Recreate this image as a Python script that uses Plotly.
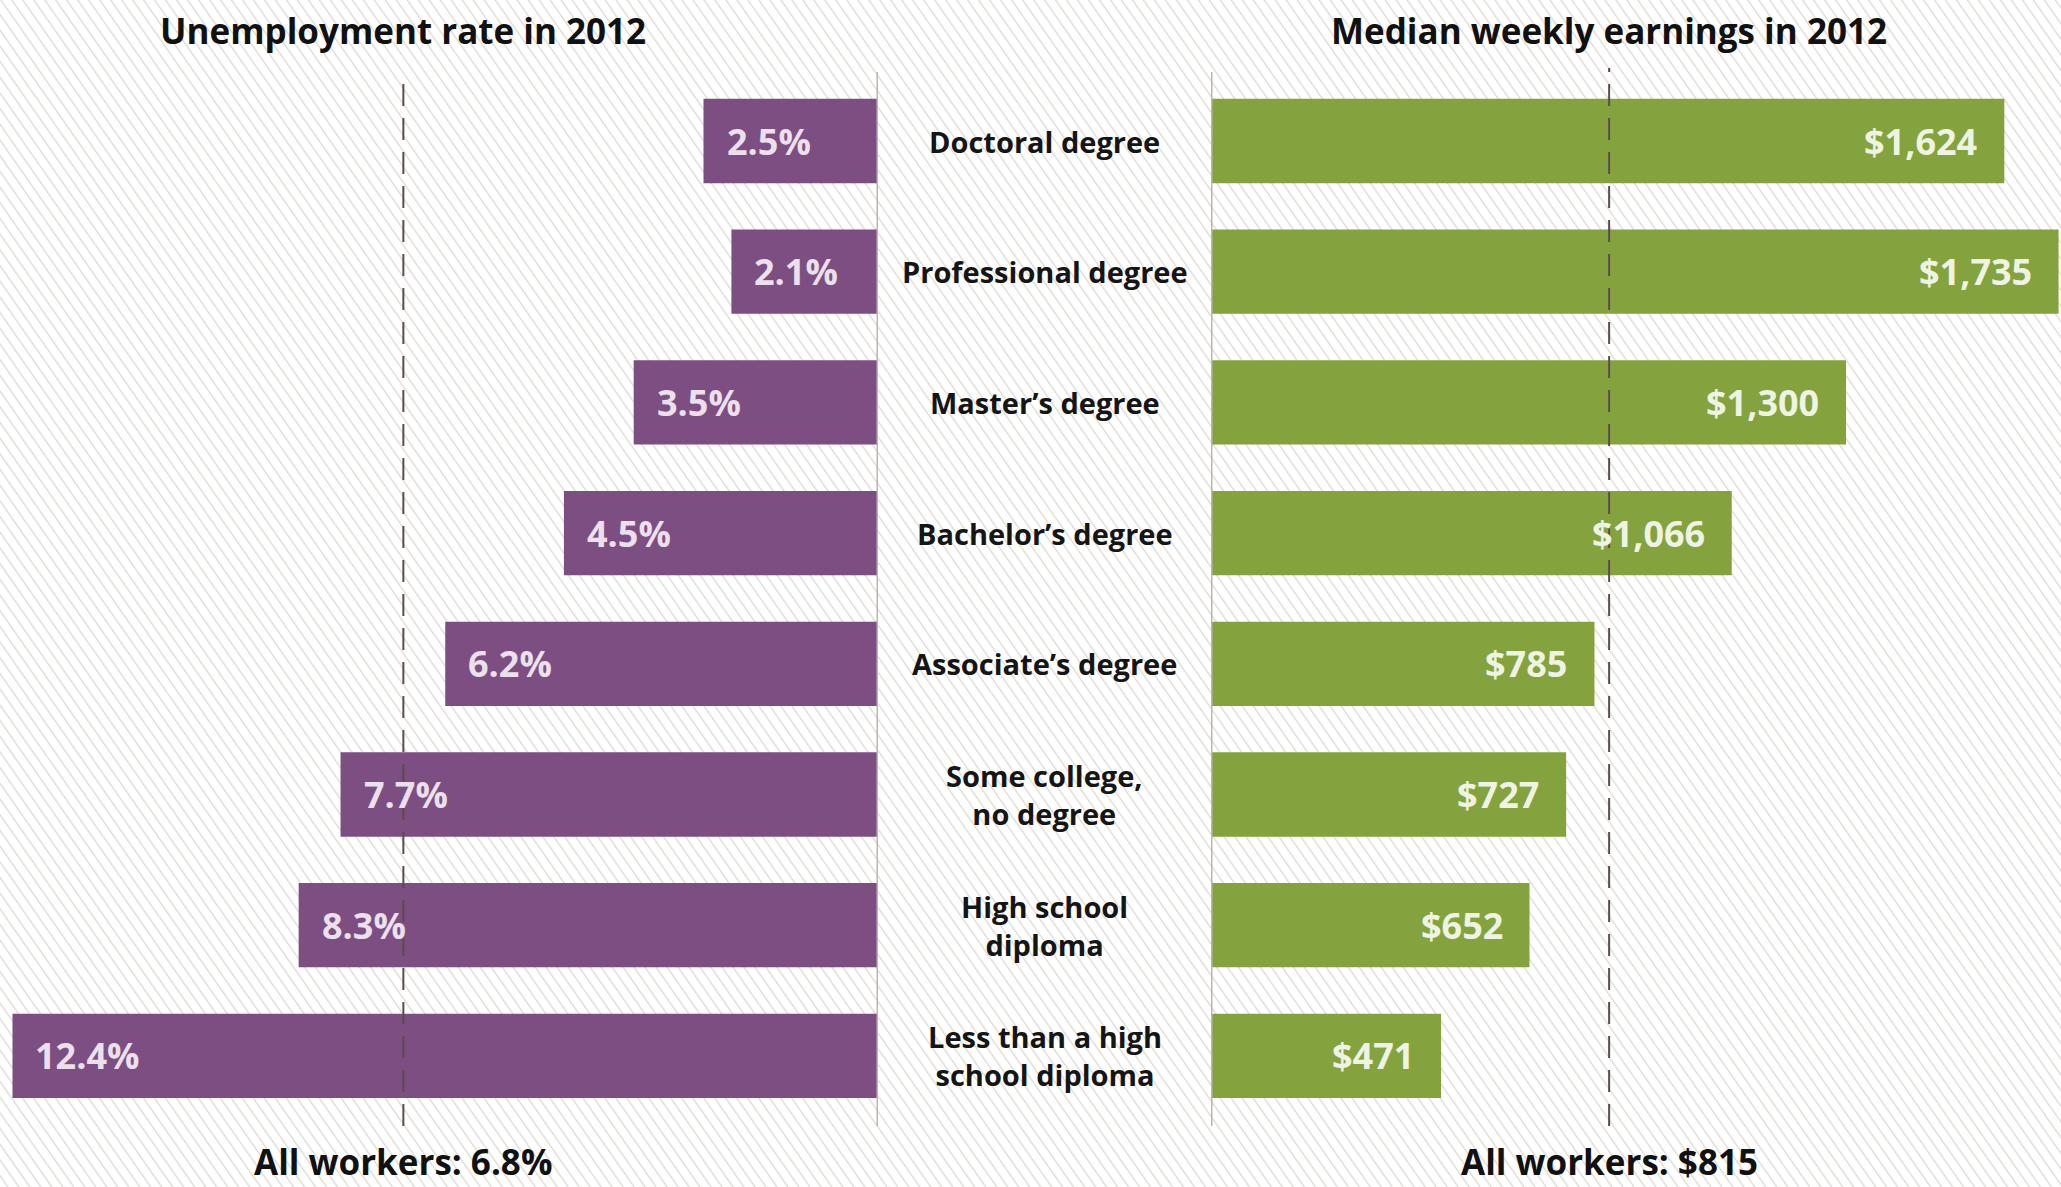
import base64
import plotly.graph_objects as go

# ---- data ----
categories = ["Doctoral degree", "Professional degree", "Master’s degree", "Bachelor’s degree",
              "Associate’s degree", "Some college,<br>no degree", "High school<br>diploma",
              "Less than a high<br>school diploma"]
unemployment = [2.5, 2.1, 3.5, 4.5, 6.2, 7.7, 8.3, 12.4]
earnings = [1624, 1735, 1300, 1066, 785, 727, 652, 471]
all_unemployment = 6.8
all_earnings = 815
left_title = "Unemployment rate in 2012"
right_title = "Median weekly earnings in 2012"

W, H = 2061, 1187
PURPLE = "#7d4e82"
GREEN = "#84a33e"
FONT = "Open Sans, sans-serif"

# hatched background as svg pattern
svg = (f'<svg xmlns="http://www.w3.org/2000/svg" width="{W}" height="{H}">'
       '<defs><pattern id="p" width="9" height="9" patternUnits="userSpaceOnUse" '
       'patternTransform="rotate(-35)">'
       '<line x1="0" y1="0" x2="0" y2="9" stroke="#dcd8d3" stroke-width="2.6"/>'
       '</pattern></defs>'
       f'<rect width="{W}" height="{H}" fill="#ffffff"/>'
       f'<rect width="{W}" height="{H}" fill="url(#p)"/></svg>')
bg = "data:image/svg+xml;base64," + base64.b64encode(svg.encode()).decode()

fig = go.Figure()
fig.add_trace(go.Bar(y=categories, x=unemployment, orientation="h", xaxis="x", yaxis="y",
                     marker=dict(color=PURPLE, line=dict(width=0)), width=0.645,
                     hoverinfo="skip"))
fig.add_trace(go.Bar(y=categories, x=earnings, orientation="h", xaxis="x2", yaxis="y",
                     marker=dict(color=GREEN, line=dict(width=0)), width=0.645,
                     hoverinfo="skip"))

ann = []
for c, v in zip(categories, unemployment):
    ann.append(dict(x=v, y=c, xref="x", yref="y", text=f"{v}%", showarrow=False,
                    xanchor="left", xshift=21,
                    font=dict(family=FONT, size=36, color="#ebe0eb", weight="bold")))
for c, v in zip(categories, earnings):
    ann.append(dict(x=v, y=c, xref="x2", yref="y", text=f"${v:,}", showarrow=False,
                    xanchor="right", xshift=-25,
                    font=dict(family=FONT, size=36, color="#eef3e3", weight="bold")))
for c in categories:
    ann.append(dict(x=1044.5 / W, y=c, xref="paper", yref="y", text=c, showarrow=False,
                    xanchor="center", yanchor="middle",
                    font=dict(family=FONT, size=29, color="#151515", weight="bold")))
title_font = dict(family=FONT, size=35, color="#111111", weight="bold")
ann.append(dict(x=all_unemployment, y=1 - 30 / H, xref="x", yref="paper", text=left_title,
                showarrow=False, xanchor="center", yanchor="middle", font=title_font))
ann.append(dict(x=all_earnings, y=1 - 30 / H, xref="x2", yref="paper", text=right_title,
                showarrow=False, xanchor="center", yanchor="middle", font=title_font))
ann.append(dict(x=all_unemployment, y=1 - 1161 / H, xref="x", yref="paper",
                text=f"All workers: {all_unemployment}%", showarrow=False,
                xanchor="center", yanchor="middle", font=title_font))
ann.append(dict(x=all_earnings, y=1 - 1161 / H, xref="x2", yref="paper",
                text=f"All workers: ${all_earnings}", showarrow=False,
                xanchor="center", yanchor="middle", font=title_font))

shapes = [
    dict(type="line", xref="x", yref="paper", x0=0, x1=0, y0=1 - 1126 / H, y1=1 - 72 / H,
         line=dict(color="#bdb5ad", width=3), layer="above"),
    dict(type="line", xref="x2", yref="paper", x0=0, x1=0, y0=1 - 1126 / H, y1=1 - 72 / H,
         line=dict(color="#bdb5ad", width=3), layer="above"),
    dict(type="line", xref="x", yref="paper", x0=all_unemployment, x1=all_unemployment,
         y0=1 - 1126 / H, y1=1 - 72 / H,
         line=dict(color="#5d4c4c", width=2, dash="22px,12px"), layer="above"),
    dict(type="line", xref="x2", yref="paper", x0=all_earnings, x1=all_earnings,
         y0=1 - 1126 / H, y1=1 - 68 / H,
         line=dict(color="#5d4c4c", width=2, dash="22px,12px"), layer="above"),
]

fig.update_layout(
    width=W, height=H, margin=dict(l=0, r=0, t=0, b=0),
    paper_bgcolor="#ffffff", plot_bgcolor="rgba(0,0,0,0)",
    showlegend=False, barmode="overlay",
    xaxis=dict(domain=[0, 878 / W], range=[878 / 69.8, 0], visible=False, fixedrange=True),
    xaxis2=dict(domain=[1211 / W, 1], range=[0, 1740], visible=False, fixedrange=True),
    yaxis=dict(type="category", categoryarray=categories, range=[(H - 141) / 130.7, -141 / 130.7],
               visible=False, fixedrange=True),
    annotations=ann, shapes=shapes,
    images=[dict(source=bg, xref="paper", yref="paper", x=0, y=1, sizex=1, sizey=1,
                 sizing="stretch", layer="below", xanchor="left", yanchor="top")],
)

fig.write_html("out.html", config={"displayModeBar": False},
               post_script="document.body.style.margin='0';document.body.style.overflow='hidden';")
